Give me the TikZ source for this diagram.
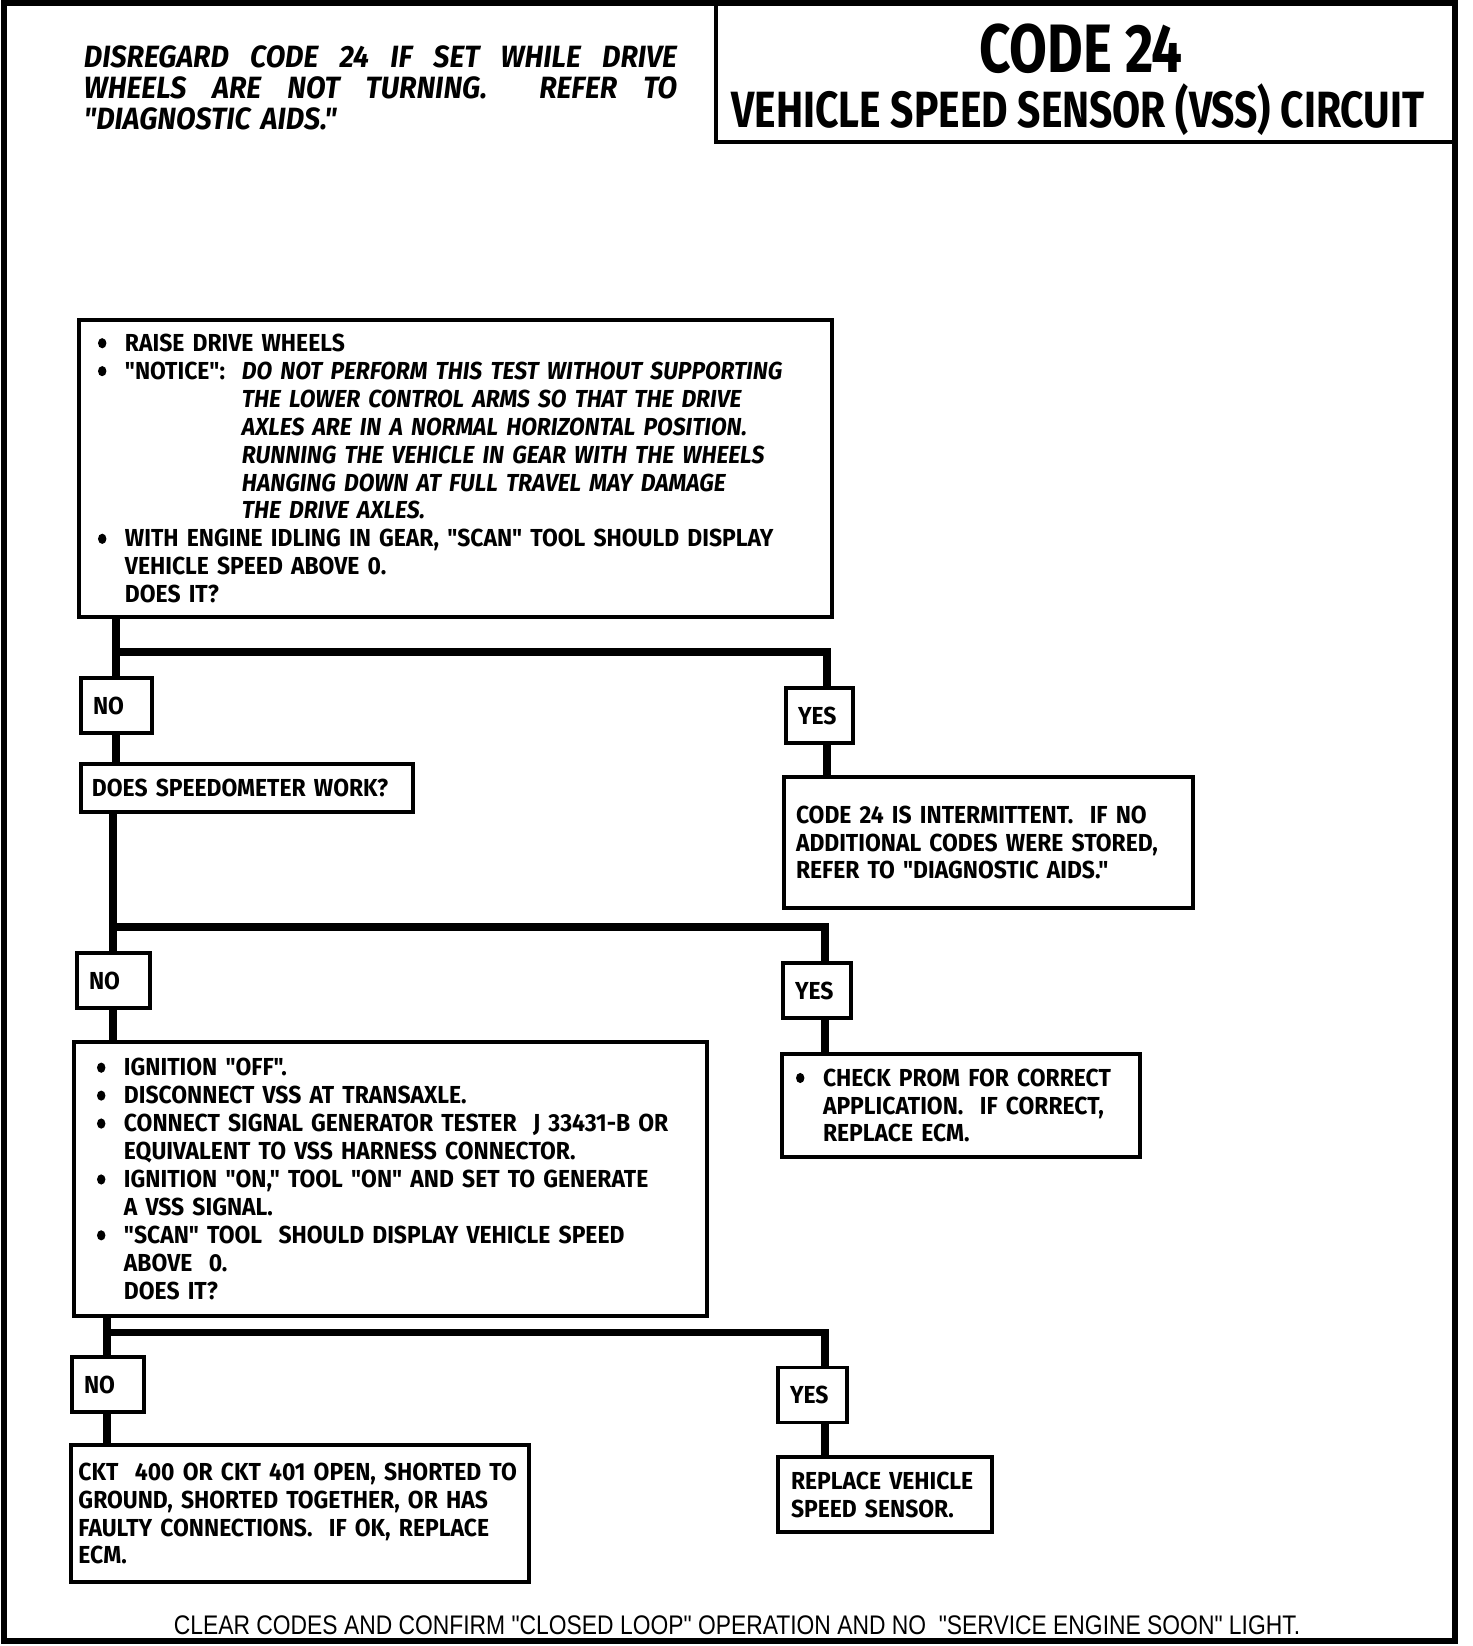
\documentclass[tikz,border=0pt]{standalone}
\usepackage{fontspec}
\usepackage{tikz}
\setmainfont{Fira Sans}
\newfontfamily\boxfont[FakeStretch=0.93]{Fira Sans}
\newfontfamily\titlefont[FakeStretch=0.8]{Fira Sans}
\newfontfamily\footfont[FakeStretch=0.85]{Liberation Sans}
\newlength{\bulw}\setlength{\bulw}{5.4mm}
\newcommand{\bul}{\makebox[\bulw][l]{\tikz[baseline=-4.6pt]\fill[black] (2.6pt,0pt) ellipse (2.4pt and 2.9pt);}}
\newcommand{\ind}{\hspace*{\bulw}}

\begin{document}
\begin{tikzpicture}[
    x=0.2mm, y=-0.2mm,
    box/.style={
        rectangle, draw=black, line width=1.8pt, fill=white, text=black,
        font=\boxfont\bfseries\fontsize{14}{15.9}\selectfont,
        align=left, inner sep=0pt
    },
    answer/.style={box, minimum height=11mm},
    link/.style={line width=4pt, draw=black},
    frame/.style={line width=3.5pt, draw=black}
]
\useasboundingbox (0,0) rectangle (1472,1646);

\draw[frame] (4,3) rectangle (1455,1641);
\node[draw=black, line width=2.5pt, minimum width=147.8mm, minimum height=27.8mm, inner sep=0pt] (title) at (1085.5,72.5) {};
\node[font=\titlefont\bfseries\fontsize{39}{39}\selectfont] (code) at (1081,49) {CODE 24};
\node[font=\titlefont\bfseries\fontsize{29}{29}\selectfont] (circuit) at (1078,110) {VEHICLE SPEED SENSOR (VSS) CIRCUIT};

\node[font=\boxfont\bfseries\itshape\fontsize{17.5}{17.5}\selectfont, text width=118.6mm, align=left, inner sep=0pt] (note) at (380.5,88)
    {\makebox[118.6mm]{DISREGARD\hfill CODE\hfill 24\hfill IF\hfill SET\hfill WHILE\hfill DRIVE}\\
     \makebox[118.6mm]{WHEELS\hfill ARE\hfill NOT\hfill TURNING.\hfill\hfill REFER\hfill TO}\\
     "DIAGNOSTIC AIDS."};

\node[box, minimum width=150.6mm, minimum height=59.4mm, text width=143mm] (raise) at (455.5,468.5)
    {\bul RAISE DRIVE WHEELS\\
     \bul\makebox[23.4mm][l]{"NOTICE":}\textit{DO NOT PERFORM THIS TEST WITHOUT SUPPORTING}\\
     \hspace*{28.8mm}\textit{THE LOWER CONTROL ARMS SO THAT THE DRIVE}\\
     \hspace*{28.8mm}\textit{AXLES ARE IN A NORMAL HORIZONTAL POSITION.}\\
     \hspace*{28.8mm}\textit{RUNNING THE VEHICLE IN GEAR WITH THE WHEELS}\\
     \hspace*{28.8mm}\textit{HANGING DOWN AT FULL TRAVEL MAY DAMAGE}\\
     \hspace*{28.8mm}\textit{THE DRIVE AXLES.}\\
     \bul WITH ENGINE IDLING IN GEAR, "SCAN" TOOL SHOULD DISPLAY\\
     \ind VEHICLE SPEED ABOVE 0.\\
     \ind DOES IT?};

\node[answer, minimum width=14.2mm, text width=9.4mm] (no1) at (116.5,705.5) {NO};
\node[answer, minimum width=13.4mm, text width=8.6mm] (yes1) at (819.5,715.5) {YES};
\node[box, minimum width=66.4mm, minimum height=9.6mm, text width=62mm] (speedo) at (247,788) {DOES SPEEDOMETER WORK?};
\node[box, minimum width=81.8mm, minimum height=26.2mm, text width=77mm] (interm) at (988.5,842.5)
    {CODE 24 IS INTERMITTENT. \ IF NO\\
     ADDITIONAL CODES WERE STORED,\\
     REFER TO "DIAGNOSTIC AIDS."};

\node[answer, minimum width=14.6mm, text width=9.8mm] (no2) at (113.5,980.5) {NO};
\node[answer, minimum width=13.6mm, text width=8.8mm] (yes2) at (817,990.5) {YES};
\node[box, minimum width=126.6mm, minimum height=54.8mm, text width=117.4mm] (ignition) at (390.5,1179)
    {\bul IGNITION "OFF".\\
     \bul DISCONNECT VSS AT TRANSAXLE.\\
     \bul CONNECT SIGNAL GENERATOR TESTER \ J 33431-B OR\\
     \ind EQUIVALENT TO VSS HARNESS CONNECTOR.\\
     \bul IGNITION "ON," TOOL "ON" AND SET TO GENERATE\\
     \ind A VSS SIGNAL.\\
     \bul "SCAN" TOOL \ SHOULD DISPLAY VEHICLE SPEED\\
     \ind ABOVE \ 0.\\
     \ind DOES IT?};
\node[box, minimum width=71.6mm, minimum height=20.6mm, text width=66mm] (prom) at (961,1105.5)
    {\bul CHECK PROM FOR CORRECT\\
     \ind APPLICATION. \ IF CORRECT,\\
     \ind REPLACE ECM.};

\node[answer, minimum width=14.4mm, text width=9.6mm] (no3) at (108,1384.5) {NO};
\node[answer, minimum width=13.8mm, text width=9mm] (yes3) at (812.5,1395) {YES};
\node[box, minimum width=91.6mm, minimum height=27.4mm, text width=88.6mm] (ckt) at (300,1513.5)
    {CKT \ 400 OR CKT 401 OPEN, SHORTED TO\\
     GROUND, SHORTED TOGETHER, OR HAS\\
     FAULTY CONNECTIONS. \ IF OK, REPLACE\\
     ECM.};
\node[box, minimum width=42.8mm, minimum height=15mm, text width=37.6mm] (replace) at (885,1494.5)
    {REPLACE VEHICLE\\
     SPEED SENSOR.};

\node[font=\footfont\fontsize{15.3}{15.3}\selectfont] (clear) at (737,1625)
    {CLEAR CODES AND CONFIRM "CLOSED LOOP" OPERATION AND NO \ "SERVICE ENGINE SOON" LIGHT.};

\coordinate (j1) at (116,652);
\coordinate (k1) at (827,652);
\coordinate (j2) at (113,927);
\coordinate (k2) at (825,927);
\coordinate (j3) at (107,1332);
\coordinate (k3) at (825,1332);

\draw[link] (raise.south -| j1) -- (j1) -- (k1) -- (k1 |- yes1.north);
\draw[link] (j1) -- (j1 |- no1.north);
\draw[link] (no1.south -| j1) -- (j1 |- speedo.north);
\draw[link] (yes1.south -| k1) -- (k1 |- interm.north);

\draw[link] (speedo.south -| j2) -- (j2) -- (k2) -- (k2 |- yes2.north);
\draw[link] (j2) -- (j2 |- no2.north);
\draw[link] (no2.south -| j2) -- (j2 |- ignition.north);
\draw[link] (yes2.south -| k2) -- (k2 |- prom.north);

\draw[link] (ignition.south -| j3) -- (j3) -- (k3) -- (k3 |- yes3.north);
\draw[link] (j3) -- (j3 |- no3.north);
\draw[link] (no3.south -| j3) -- (j3 |- ckt.north);
\draw[link] (yes3.south -| k3) -- (k3 |- replace.north);

\end{tikzpicture}
\end{document}
